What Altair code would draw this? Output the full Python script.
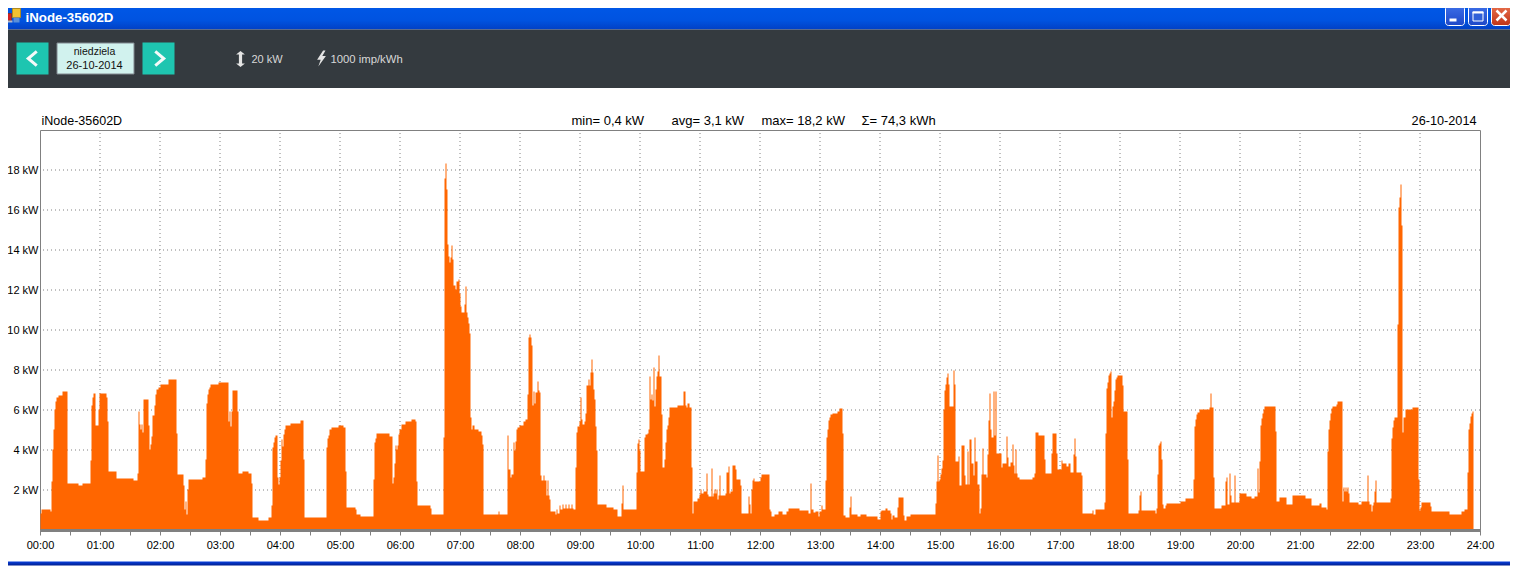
import altair as alt

# ---------- data (start minute of each step, kW) ----------
minutes = [
 0,1,10,11,12,13,14,15,16,18,22,27,38,42,50,51,52,53,55,58,59,66,67,68,76,93,97,98,99,100,
 101,102,103,108,109,110,111,112,114,115,116,118,120,128,136,137,143,144,145,146,147,148,162,165,166,167,168,169,170,178,
 188,189,190,191,192,197,198,202,208,211,212,218,228,231,232,233,234,235,237,238,239,240,241,242,243,244,245,250,260,263,
 264,286,287,288,289,291,298,303,305,306,315,316,320,333,334,335,336,349,352,353,354,355,356,357,358,359,361,365,371,375,
 376,377,390,391,403,404,405,406,407,408,409,410,411,412,413,415,416,418,419,420,421,424,425,426,427,428,429,430,431,432,
 434,438,441,442,443,458,459,467,468,470,471,473,474,475,476,477,479,483,485,487,488,489,490,491,492,493,494,495,497,498,
 499,500,501,503,504,506,507,508,509,510,515,516,517,519,520,522,523,525,526,528,529,531,532,533,535,536,537,539,540,541,
 542,544,545,546,548,549,550,551,552,553,554,555,556,557,566,573,577,581,582,583,596,597,598,599,600,604,605,607,608,609,
 610,611,612,613,614,615,616,617,618,619,621,622,624,625,626,627,628,629,637,643,645,646,647,649,651,652,653,657,659,660,
 661,663,666,667,668,671,672,673,674,675,676,677,678,679,680,685,686,688,689,690,692,695,696,700,701,708,709,710,711,712,
 713,714,720,721,729,730,731,734,738,742,746,748,759,768,770,771,773,775,778,779,781,782,785,786,787,788,789,790,792,797,
 799,802,803,805,809,810,811,817,820,826,837,840,841,845,847,850,851,852,854,857,858,863,864,866,870,895,896,897,898,899,
 900,901,902,903,904,905,906,907,908,909,913,914,915,918,919,921,924,925,927,928,929,931,933,934,935,937,939,940,941,942,
 943,946,947,948,949,950,951,953,954,955,956,961,962,966,967,968,970,972,973,974,975,976,977,979,992,994,995,998,1004,1005,
 1011,1012,1016,1017,1021,1022,1026,1028,1030,1033,1034,1035,1036,1041,1042,1052,1053,1055,1064,1065,1066,1067,1068,1069,1070,1071,1072,1073,1074,1075,
 1076,1077,1082,1083,1087,1088,1098,1099,1100,1101,1115,1116,1117,1118,1119,1120,1121,1122,1123,1125,1126,1140,1145,1153,1154,1155,1156,1157,1159,1169,
 1170,1171,1173,1174,1181,1185,1186,1187,1189,1190,1191,1194,1195,1199,1206,1211,1214,1217,1218,1219,1220,1221,1222,1223,1224,1235,1236,1239,1246,1252,
 1265,1271,1279,1281,1286,1287,1288,1289,1290,1291,1292,1296,1297,1302,1303,1304,1305,1306,1307,1308,1309,1318,1321,1327,1328,1329,1331,1332,1333,1334,
 1335,1336,1350,1351,1352,1353,1354,1357,1358,1359,1360,1361,1362,1363,1365,1372,1378,1379,1380,1381,1390,1391,1409,1421,1424,1427,1428,1429,1430,1431,
 1432,1433,
]
kw = [
 .8,1,.9,2.4,4,5,6,6.4,6.6,6.7,6.9,2.3,2.2,2.3,3.45,6.2,6.6,6.8,5.2,6,6.8,6.6,5.4,2.9,2.55,2.45,2.8,5.9,5.25,5,
 5.25,4.85,6.5,5.2,4,4.25,4.65,5.7,6.2,6.75,7,7.1,7.25,7.5,4.8,2.75,2.2,1,1.4,.75,2,2.5,2.6,3.5,6.3,6.75,7,7.1,7.25,7.35,
 5.4,5.9,5.15,5.9,6.95,5.9,2.8,2.9,2.8,2.3,.6,.45,.6,1.2,4.1,4.35,4.6,4.7,2.6,2.25,2.6,3.45,4.5,4.15,4.75,5,5.2,5.3,5.45,3.5,
 .6,4.1,4.55,4.7,5,5.1,5.2,5.1,2.9,1.1,1,.75,.65,2.5,4.35,4.55,4.8,4.65,2.3,2.6,3.3,4.2,4,4.2,4.75,5,5.25,5.4,5.5,5.4,
 2.4,1.2,1.05,.75,4.6,17.55,18.3,17,14.25,13.65,13.35,13.6,14.2,13.5,12.2,12,12.4,12.5,11.8,11.15,10.85,11.25,12.15,10.85,10.6,10.3,9.8,5.6,5,5.2,
 5,4.9,4.7,4.25,.75,.9,.75,4.7,3,2.6,2.75,4.35,3.95,4.4,5,5.1,5.2,5.4,5.5,6.75,9.6,9.75,9.6,9.2,6.2,6.9,6.3,6.85,7.4,6.95,
 6.85,2.7,2.45,2.7,2.45,1.7,2.45,1.7,1.5,.9,.75,1,.8,1.2,1,1.25,1.05,1.25,1.05,1.25,1.05,1.25,1.05,1,3.1,4.85,5.15,5.4,6.6,5.5,
 5.25,5.4,5.8,7.2,7.5,7.2,7.85,8.5,7.85,7,6.5,5.15,3.95,1.25,1.1,1,.65,1.3,2.2,1,2.85,4.3,4.5,3.95,2.9,4.6,4.75,4.8,5,7.65,
 6.5,6.75,6.45,8.1,6.15,7,7.65,7.9,8.7,7.65,5.75,3.1,3.5,4.35,5,5.2,5.6,6.1,6.2,6.9,6.2,6.1,6.3,6.1,3.1,.8,1.4,1.55,1.75,2,
 1.8,1.9,2.8,1.75,1.65,3.05,1.65,1.8,2,1.8,2,1.5,1.7,2.7,1.7,1.8,2.85,3.15,1.8,1.9,3.2,3,2.5,2.2,.8,1.65,1.25,.8,2,2.45,
 2.55,2.4,2.6,2.75,1,.9,.65,.75,.9,.75,.9,1.05,.95,.8,2.3,1,.85,.9,.65,.9,1.2,1,2.45,4.6,5,5.45,5.6,5.75,5.8,5.9,
 6.05,4.8,.7,.6,1.1,1.65,.75,.65,.75,.65,.5,.9,.95,1.05,.95,.8,.5,.7,.6,1.1,1.6,.7,.45,.65,.75,1.3,2.4,3.7,2.4,2.5,
 2.75,3.05,3.45,6,6.95,7.25,7.6,7.8,7.25,6.15,7.95,7.25,3.4,3.65,2.2,4.2,2.7,2.25,3.9,2.25,4.5,3.3,2.7,4.6,3.4,2.25,.8,1.05,2.75,4.05,
 2.75,2.6,3.75,5.45,6.8,5,4.6,6.9,4.7,6.9,3.8,3.1,3.3,4.65,3.6,3.15,3.35,4.25,3.2,2.8,4,2.8,2.6,2.5,2.6,2.8,4.85,4.7,3.5,2.8,
 3.8,4.8,3.8,3,3.45,3.3,3.15,3.3,2.85,3.75,4.55,3.65,2.85,2.7,.8,.95,.75,1,1.35,4.8,7.05,7.35,7.7,7.8,7.9,5.6,6.15,6.4,6.95,7.5,
 7.6,7.7,7.2,5.9,3.5,.8,.95,1.7,1.9,.95,.8,1.05,2.75,4.2,4.3,4.4,3.5,1.25,1.05,1.2,1.3,1.4,1.55,2.5,5.15,5.5,5.75,5.85,6,6.1,
 6.8,6.1,2.6,1.05,1.2,2.4,2.6,1.25,2.8,1.7,1.35,2.7,1.35,1.8,1.65,1.55,1.65,3.05,1.85,3.4,5.2,5.55,5.8,6,6.15,4.9,1.4,1.6,1.25,1.7,
 1.55,1.2,1.3,1.1,1,3.9,5,5.45,5.8,6.05,6.15,6.25,6.4,1.4,2.1,1.9,2.1,1.9,2.1,1.8,1.35,1.25,1.4,2.7,1.4,1.25,.9,1.2,1.35,1.9,
 2.45,1.35,1.55,4.55,5.1,5.45,5.6,10.25,16.1,16.6,17.25,15.2,4.85,5.6,6,6.1,2.5,.95,1.1,1.35,1.15,.9,.75,.9,1,2.85,5,5.3,5.65,5.8,
 5.9,0,
]
hour_lines = list(range(60, 1440, 60))
tick_minutes = list(range(0, 1441, 30))
kw_levels = list(range(2, 19, 2))
title_text = "iNode-35602D"
stats = ["min= 0,4 kW", "avg= 3,1 kW", "max= 18,2 kW", "Σ= 74,3 kWh"]
stat_pos = [572, 672, 762, 862]
date_text = "26-10-2014"
day_text = "niedziela"
range_text = "20 kW"
imp_text = "1000 imp/kWh"

FONT = "Liberation Sans"
ORANGE = "#FF6600"
GRAY = "#808080"
W, H = 1440, 400
OX, OY = 40.5, 130.5
one = alt.Data(values=[{"k": 0}])

def sx(p): return p - OX
def sy(p): return p - OY

def grad(*stops, horizontal=False):
    return alt.Gradient(gradient="linear", x1=0, y1=0, x2=1 if horizontal else 0, y2=0 if horizontal else 1,
                        stops=[alt.GradientStop(offset=o, color=c) for o, c in stops])

def box(x0, y0, x1, y1, fill, **kw_):
    return alt.Chart(one).mark_rect(fill=fill, **kw_).encode(
        x=alt.value(sx(x0)), x2=alt.value(sx(x1)), y=alt.value(sy(y0)), y2=alt.value(sy(y1)))

def label(x, y, text, size=11, color="#000000", align="left", weight="normal"):
    return alt.Chart(one).mark_text(text=text, font=FONT, fontSize=size, color=color, align=align,
                                    baseline="middle", fontWeight=weight).encode(
        x=alt.value(sx(x)), y=alt.value(sy(y)))

def glyph(x, y, path, size, **kw_):
    return alt.Chart(one).mark_point(shape=path, size=size, opacity=1, **kw_).encode(
        x=alt.value(sx(x)), y=alt.value(sy(y)))

def stroke_line(x0, y0, x1, y1, color="#FFFFFF", width=2.5):
    return alt.Chart(one).mark_rule(color=color, strokeWidth=width).encode(
        x=alt.value(sx(x0)), x2=alt.value(sx(x1)), y=alt.value(sy(y0)), y2=alt.value(sy(y1)))

chrome = [
    box(0, 0, 1518, 30, grad((0, "#0A62EC"), (0.15, "#0058E8"), (0.7, "#0053E0"), (1, "#0240C4"))),
    box(0, 30, 1518, 88.5, "#343A3F"),
    box(0, 562, 1518, 566, grad((0, "#0840DC"), (1, "#001E90"))),
    # title bar icon
    box(13, 9, 21, 18, "#F2C230", stroke="#B08A20", strokeWidth=1),
    box(8, 14, 12, 21, "#D02020", stroke="#803030", strokeWidth=1),
    box(14, 18, 20, 23, "#5A8FD8"),
    box(7, 21, 13, 23, "#B0B8C8"),
    label(26, 18, title_text, size=13.3, color="#FFFFFF", weight="bold"),
    # window buttons
    box(1446, 6, 1465, 26, grad((0, "#3C6FE8"), (1, "#1E48C8")), stroke="#FFFFFF", strokeWidth=1, cornerRadius=3),
    box(1469, 6, 1488, 26, grad((0, "#3C6FE8"), (1, "#1E48C8")), stroke="#FFFFFF", strokeWidth=1, cornerRadius=3),
    box(1492, 6, 1511, 26, grad((0, "#E8704C"), (1, "#C03418")), stroke="#FFFFFF", strokeWidth=1, cornerRadius=3),
    box(1450, 19, 1457, 22, "#FFFFFF"),
    box(1473.5, 12.5, 1483.5, 21.5, "#3060D8", stroke="#FFFFFF", strokeWidth=1),
    box(1473, 12, 1484, 14, "#FFFFFF"),
    stroke_line(1497, 11, 1507, 21),
    stroke_line(1507, 11, 1497, 21),
    # toolbar
    box(17, 43, 49, 75, "#1EC5B0"),
    box(143, 43, 175, 75, "#1EC5B0"),
    box(57.5, 43.5, 134.5, 74.5, "#D1F2EE", stroke="#808890", strokeWidth=1),
    glyph(33, 59, "M 0.6 -1 L -0.6 0 L 0.6 1", 200, filled=False, stroke="#F4FAF9", strokeWidth=3),
    glyph(160, 59, "M -0.6 -1 L 0.6 0 L -0.6 1", 200, filled=False, stroke="#F4FAF9", strokeWidth=3),
    label(95, 52.5, day_text, size=10.5, color="#111111", align="center"),
    label(95, 66.5, date_text, size=11, color="#111111", align="center"),
    glyph(241, 59.5, "M 0 -1 L 0.55 -0.55 L 0.2 -0.55 L 0.2 0.55 L 0.55 0.55 L 0 1 L -0.55 0.55 L -0.2 0.55 L -0.2 -0.55 L -0.55 -0.55 Z",
          256, filled=True, fill="#E4E4E4", strokeWidth=0),
    label(252, 60.5, range_text, size=11, color="#D8D8D8"),
    glyph(322, 59, "M 0.2 -1 L -0.55 0.15 L -0.1 0.15 L -0.4 1 L 0.55 -0.3 L 0.1 -0.3 L 0.5 -1 Z",
          256, filled=True, fill="#E4E4E4", strokeWidth=0),
    label(331, 60.5, imp_text, size=11.3, color="#D8D8D8"),
    # chart header
    label(42, 121, title_text, size=12.5),
    label(1477, 121, date_text, size=12.7, align="right"),
]
for s, p in zip(stats, stat_pos):
    chrome.append(label(p, 121, s, size=13))

x_scale = alt.Scale(domain=[0, 1440], nice=False, zero=False)
y_scale = alt.Scale(domain=[0, 20], nice=False, zero=True)

x_axis = alt.Axis(
    values=tick_minutes, title=None, grid=False, zindex=1,
    domainColor=GRAY, domainWidth=3, tickColor=GRAY, tickWidth=1, tickSize=5,
    labelFont=FONT, labelFontSize=11, labelColor="#000000", labelPadding=4,
    labelFlush=False, labelOverlap=False,
    labelExpr="datum.value % 60 == 0 ? (datum.value < 600 ? '0' : '') + (datum.value / 60) + ':00' : ''")
y_axis = alt.Axis(
    values=kw_levels, title=None, grid=False, domain=False, ticks=False, zindex=1,
    labelFont=FONT, labelFontSize=11, labelColor="#000000", labelPadding=2,
    labelExpr="datum.value + ' kW'")

vgrid = alt.Chart(alt.Data(values=[{"m": m} for m in hour_lines])).mark_rule(
    color=GRAY, strokeWidth=1, strokeDash=[1, 3]).encode(
    x=alt.X("m:Q", scale=x_scale, axis=x_axis), y=alt.value(3), y2=alt.value(H))

hgrid = alt.Chart(alt.Data(values=[{"v": v} for v in kw_levels])).mark_rule(
    color=GRAY, strokeWidth=1, strokeDash=[1, 3]).encode(
    y=alt.Y("v:Q", scale=y_scale, axis=y_axis), x=alt.value(3), x2=alt.value(W))

area = alt.Chart(alt.Data(values=[{"m": m, "p": p} for m, p in zip(minutes, kw)])).mark_area(
    interpolate="step-after", color=ORANGE, opacity=1, xOffset=0.5, yOffset=-0.5).encode(
    x=alt.X("m:Q", scale=x_scale, axis=x_axis),
    y=alt.Y("p:Q", stack=None, scale=y_scale, axis=y_axis),
)

chart = alt.layer(*chrome, vgrid, hgrid, area).properties(
    width=W, height=H,
    padding={"left": 32, "top": 122, "right": 30, "bottom": 36},
    autosize=alt.AutoSizeParams(type="none"),
    background="#FFFFFF",
).configure_view(stroke=GRAY, strokeWidth=1)

chart.save("out.html", embed_options={"renderer": "svg", "actions": False})
